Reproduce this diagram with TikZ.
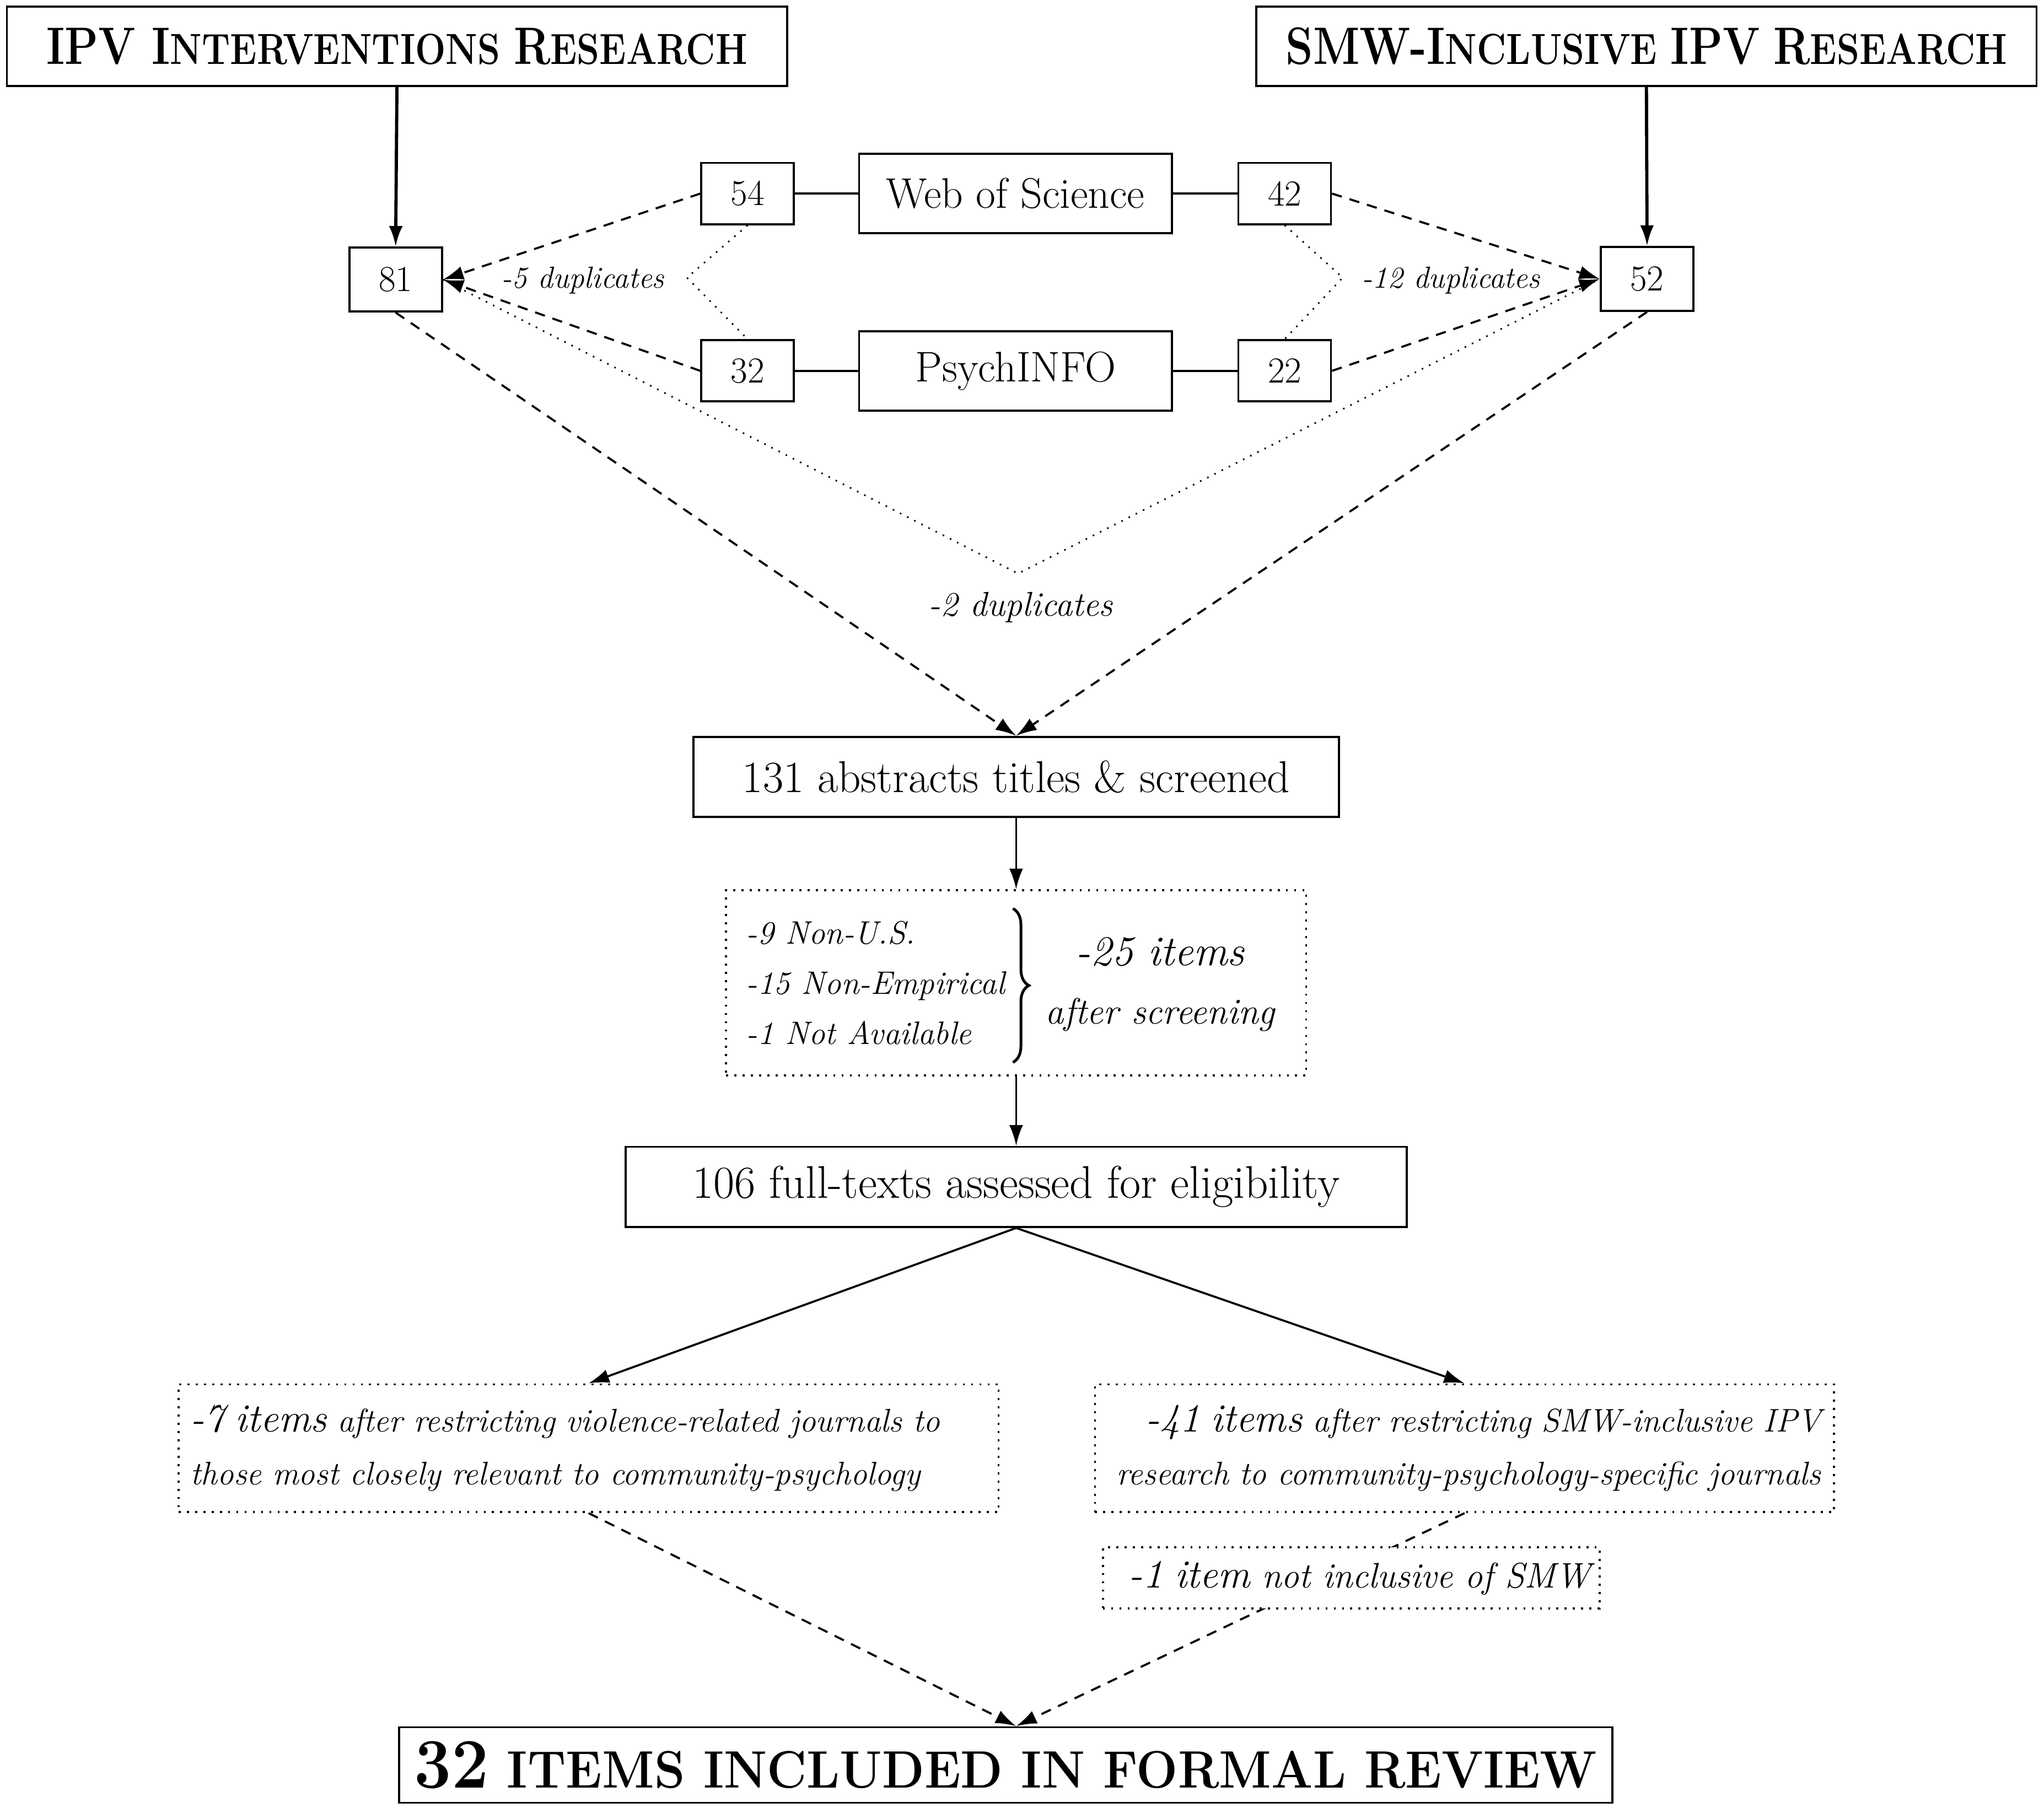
\documentclass[tikz,border=0pt]{standalone}
\usepackage{amsmath}
\usepackage{graphicx}
\usepackage{tikz}
\usetikzlibrary{arrows.meta,decorations.pathreplacing}

\newcommand{\capsbig}[1]{{\fontsize{23}{26}\selectfont #1}}
\newcommand{\capssmall}[1]{{\fontsize{19}{22}\selectfont #1}}
\newcommand{\itembig}[1]{{\fontsize{17.5}{20}\selectfont #1}}

\begin{document}
\begin{tikzpicture}[
        box/.style={draw, line width=0.9pt, inner sep=0pt},
        titlebox/.style={box, minimum width=11.97cm, minimum height=1.22cm,
            font=\fontsize{19}{22}\selectfont\bfseries},
        numbox/.style={box, minimum width=1.42cm, minimum height=0.94cm,
            font=\fontsize{16}{19}\selectfont},
        dbbox/.style={box, minimum width=4.8cm, minimum height=1.22cm,
            font=\fontsize{18.7}{22}\selectfont},
        stagebox/.style={box, minimum height=1.23cm,
            font=\fontsize{19.5}{23}\selectfont},
        dotbox/.style={draw, line width=0.9pt, dash pattern=on 0.9pt off 2.7pt,
            font=\fontsize{14.3}{23.3}\selectfont\itshape},
        duplabel/.style={font=\fontsize{13.3}{16}\selectfont\itshape},
        solidarrow/.style={-{Latex[length=9pt,width=6pt]}, line width=0.9pt},
        dasharrow/.style={-{Latex[length=9pt,width=6pt]}, line width=0.9pt,
            dash pattern=on 4.5pt off 3.5pt},
        dotline/.style={line width=0.7pt, dash pattern=on 0.7pt off 2.8pt},
    ]
        \useasboundingbox (0,0) rectangle (31.36,-27.74);

        % Titles
        \node [titlebox] (ipvtitle) at (6.09,-0.71)
            {\scalebox{0.83}[1]{\capsbig{IPV I}\capssmall{NTERVENTIONS} \capsbig{R}\capssmall{ESEARCH}}};
        \node [titlebox] (smwtitle) at (25.26,-0.71)
            {\scalebox{0.83}[1]{\capsbig{SMW-I}\capssmall{NCLUSIVE} \capsbig{IPV} \capsbig{R}\capssmall{ESEARCH}}};

        % Databases
        \node [dbbox] (wos) at (15.58,-2.97) {Web of Science};
        \node [dbbox] (psych) at (15.58,-5.69) {PsychINFO};

        % Search counts
        \node [numbox] (wosipv) at (11.47,-2.97) {54};
        \node [numbox] (wossmw) at (19.71,-2.97) {42};
        \node [numbox] (psychipv) at (11.47,-5.69) {32};
        \node [numbox] (psychsmw) at (19.71,-5.69) {22};
        \node [numbox, minimum height=0.98cm] (ipvtotal) at (6.07,-4.29) {81};
        \node [numbox, minimum height=0.98cm] (smwtotal) at (25.27,-4.28) {52};

        \draw[line width=0.9pt] (wosipv)--(wos);
        \draw[line width=0.9pt] (wos)--(wossmw);
        \draw[line width=0.9pt] (psychipv)--(psych);
        \draw[line width=0.9pt] (psych)--(psychsmw);

        \draw[solidarrow, line width=1.4pt] (ipvtitle.south)--(ipvtotal.north);
        \draw[solidarrow, line width=1.4pt] (smwtitle.south)--(smwtotal.north);

        % Merging duplicates
        \draw[dasharrow] (wosipv.west)--(ipvtotal.east);
        \draw[dasharrow] (psychipv.west)--(ipvtotal.east);
        \draw[dasharrow] (wossmw.east)--(smwtotal.west);
        \draw[dasharrow] (psychsmw.east)--(smwtotal.west);

        \coordinate (ipvdup) at (10.54,-4.26);
        \coordinate (smwdup) at (20.6,-4.26);
        \coordinate (bothdup) at (15.62,-8.8);
        \draw[dotline] (wosipv.south)--(ipvdup)--(psychipv.north);
        \draw[dotline] (wossmw.south)--(smwdup)--(psychsmw.north);
        \draw[dotline] (ipvtotal.east)--(bothdup)--(smwtotal.west);

        \node [duplabel] (ipvduplabel) at (8.94,-4.3) {-5 duplicates};
        \node [duplabel] (smwduplabel) at (22.26,-4.3) {-12 duplicates};
        \node [duplabel, font=\fontsize{15}{18}\selectfont\itshape] (bothduplabel) at (15.66,-9.32) {-2 duplicates};

        % Screening
        \node [stagebox, minimum width=9.9cm] (abstracts) at (15.59,-11.92)
            {131 abstracts titles \& screened};
        \draw[dasharrow] (ipvtotal.south)--(abstracts.north);
        \draw[dasharrow] (smwtotal.south)--(abstracts.north);

        \node [dotbox, minimum width=8.9cm, minimum height=2.84cm] (screen) at (15.59,-15.08) {};
        \node [anchor=west, align=left, inner sep=0pt,
            font=\fontsize{14.2}{22}\selectfont\itshape] (reasons) at (11.44,-15.08)
            {-9 Non-U.S.\\-15 Non-Empirical\\-1 Not Available};
        \draw[decorate, decoration={brace, amplitude=7pt}, line width=1.2pt]
            (15.54,-13.94)--(15.54,-16.3);
        \node [align=center, inner sep=0pt,
            font=\fontsize{16}{25.6}\selectfont\itshape] (screenout) at (17.8,-15.1)
            {{\fontsize{18.5}{22}\selectfont -25 items}\\after screening};
        \draw[solidarrow] (abstracts.south)--(screen.north);

        % Eligibility
        \node [stagebox, minimum width=11.98cm, font=\fontsize{20}{24}\selectfont] (fulltext) at (15.59,-18.21)
            {106 full-texts assessed for eligibility};
        \draw[solidarrow] (screen.south)--(fulltext.north);

        \node [dotbox, inner sep=0.18cm, text width=12.22cm, minimum height=1.96cm, align=left]
            (ipvjournals) at (9.03,-22.22)
            {\itembig{-7 items} after restricting violence-related journals to\\
            those most closely relevant to community-psychology};
        \node [dotbox, inner sep=0.2cm, text width=10.94cm, minimum height=1.96cm, align=right]
            (smwjournals) at (22.47,-22.22)
            {\itembig{-41 items} after restricting SMW-inclusive IPV\\
            research to community-psychology-specific journals};
        \draw[solidarrow] (fulltext.south)--(ipvjournals.north);
        \draw[solidarrow] (fulltext.south)--(smwjournals.north);

        % Final review
        \node [box, minimum width=18.62cm, minimum height=1.16cm,
            font=\fontsize{23}{26}\selectfont\bfseries] (final) at (15.43,-27.08)
            {\scalebox{0.93}[1]{{\fontsize{31}{34}\selectfont 32} ITEMS INCLUDED IN FORMAL REVIEW}};
        \draw[dasharrow] (ipvjournals.south)--(final.north-|fulltext.south);
        \draw[dasharrow] (smwjournals.south)--(final.north-|fulltext.south);

        \node [dotbox, fill=white, inner sep=0.14cm, text width=7.34cm, minimum height=0.94cm, align=right,
            font=\fontsize{15.5}{18}\selectfont\itshape]
            (notsmw) at (20.73,-24.21)
            {\itembig{-1 item} not inclusive of SMW};
\end{tikzpicture}
\end{document}
